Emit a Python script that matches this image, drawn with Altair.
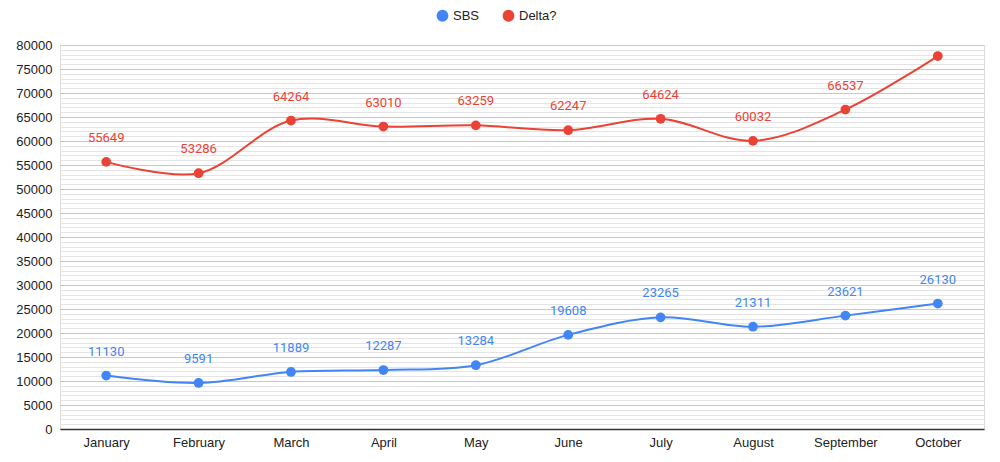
import altair as alt
import pandas as pd

months = ["January", "February", "March", "April", "May", "June", "July",
          "August", "September", "October"]
sbs = [11130, 9591, 11889, 12287, 13284, 19608, 23265, 21311, 23621, 26130]
delta = [55649, 53286, 64264, 63010, 63259, 62247, 64624, 60032, 66537, 77700]
sbs_labels = [str(v) for v in sbs]
delta_labels = ["55649", "53286", "64264", "63010", "63259", "62247", "64624",
                "60032", "66537", ""]
series_names = ["SBS", "Delta?"]
series_colors = ["#4285F4", "#EA4335"]
y_ticks = list(range(0, 80001, 1000))

rows = []
for m, v, l in zip(months, sbs, sbs_labels):
    rows.append({"month": m, "series": "SBS", "value": v, "label": l})
for m, v, l in zip(months, delta, delta_labels):
    rows.append({"month": m, "series": "Delta?", "value": v, "label": l})
df = pd.DataFrame(rows)

color = alt.Color(
    "series:N",
    scale=alt.Scale(domain=series_names, range=series_colors),
    legend=alt.Legend(
        title=None, orient="none", direction="horizontal",
        legendX=376, legendY=-36,
        symbolType="circle", symbolSize=140, symbolStrokeWidth=0,
        symbolOpacity=1, labelFontSize=13, labelFont="Liberation Sans",
        labelColor="#222", columnPadding=22, symbolOffset=0,
    ),
)

x = alt.X(
    "month:N", sort=months,
    scale=alt.Scale(type="point", padding=0.5),
    axis=alt.Axis(title=None, labelAngle=0, ticks=False, domainColor="#333",
                  domainWidth=1.5, labelPadding=7, labelFontSize=13,
                  labelFont="Liberation Sans", labelColor="#222", grid=False),
)
y = alt.Y(
    "value:Q",
    scale=alt.Scale(domain=[0, 80000], nice=False),
    axis=alt.Axis(
        title=None, values=y_ticks, format="d",
        labelExpr="datum.value % 5000 === 0 ? datum.label : ''",
        gridColor={"condition": {"test": "datum.value % 5000 === 0", "value": "#c8c8c8"},
                   "value": "#e4e4e4"},
        domain=False, ticks=False, labelPadding=8, labelFontSize=13,
        labelFont="Liberation Sans", labelColor="#222",
    ),
)

base = alt.Chart(df).encode(x=x, y=y, color=color)

line = base.mark_line(interpolate="catmull-rom", strokeWidth=2)
pts = base.mark_point(filled=True, size=95, opacity=1)
txt = alt.Chart(df).transform_filter("datum.label != ''").mark_text(
    dy=-24, fontSize=13, font="Roboto"
).encode(x=x, y=y, text="label:N",
         color=alt.Color("series:N", scale=alt.Scale(domain=series_names, range=series_colors), legend=None))

chart = (line + pts + txt).properties(
    width=924, height=384,
    padding={"left": 7, "top": 1, "right": 5, "bottom": 5},
).configure_view(stroke=None).configure(background="white")

chart.save("out.html", embed_options={"renderer": "svg", "actions": False})
